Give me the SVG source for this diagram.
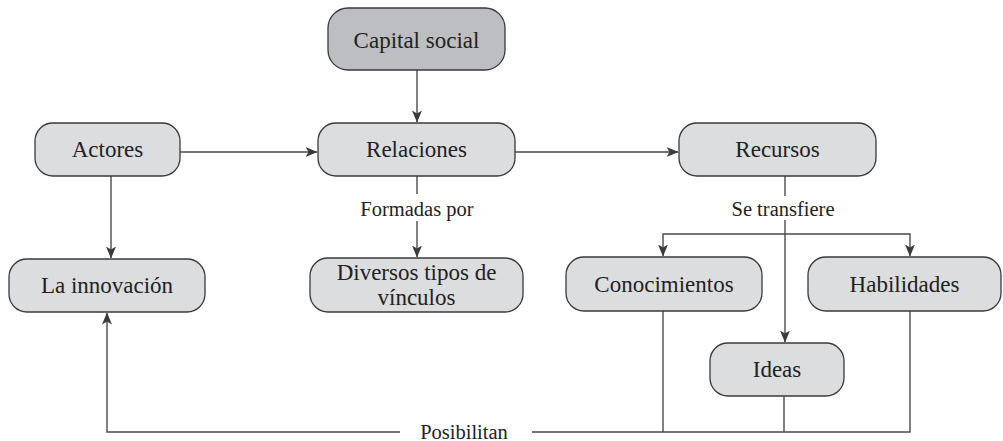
<svg xmlns="http://www.w3.org/2000/svg" width="1003" height="441" viewBox="0 0 1003 441">
<style>
.n{fill:#dcdddf;stroke:#3a3a3a;stroke-width:1.3}
.d{fill:#bdbec1;stroke:#3a3a3a;stroke-width:1.3}
.t{font-family:"Liberation Serif",serif;font-size:23px;fill:#222;text-anchor:middle}
.l{font-family:"Liberation Serif",serif;font-size:20.5px;fill:#222;text-anchor:middle}
.c{fill:none;stroke:#4a4a4a;stroke-width:1.4}
</style>
<defs>
<marker id="a" viewBox="0 0 12 10" refX="11.5" refY="5" markerWidth="12" markerHeight="10" markerUnits="userSpaceOnUse" orient="auto">
<path d="M0,0 L12,5 L0,10 L3,5 z" fill="#3a3a3a"/>
</marker>
</defs>
<rect width="1003" height="441" fill="#fff"/>
<g id="connectors">
<path class="c" d="M417,70 V122" marker-end="url(#a)"/>
<path class="c" d="M180,152 H317" marker-end="url(#a)"/>
<path class="c" d="M111,176 V258" marker-end="url(#a)"/>
<path class="c" d="M515,152 H678" marker-end="url(#a)"/>
<path class="c" d="M417,176 V194"/>
<path class="c" d="M417,221 V257" marker-end="url(#a)"/>
<path class="c" d="M785,176 V196"/>
<path class="c" d="M785,220 V342" marker-end="url(#a)"/>
<path class="c" d="M785,234 H910 V256" marker-end="url(#a)"/>
<path class="c" d="M785,234 H663 V256" marker-end="url(#a)"/>
<path class="c" d="M663,311 V432 M784,396 V432 M910,311 V432 H532"/>
<path class="c" d="M400,432 H107 V313" marker-end="url(#a)"/>
<text class="l" x="417" y="216">Formadas por</text>
<text class="l" x="783" y="216">Se transfiere</text>
<text class="l" x="464" y="439">Posibilitan</text>
</g>
<g id="capital"><rect class="d" x="328" y="8" width="177" height="62" rx="20"/><text class="t" x="416.5" y="48">Capital social</text></g>
<g id="actores"><rect class="n" x="35" y="123" width="145" height="53" rx="18"/><text class="t" x="107.5" y="157">Actores</text></g>
<g id="relaciones"><rect class="n" x="318" y="123" width="197" height="53" rx="18"/><text class="t" x="416.5" y="157">Relaciones</text></g>
<g id="recursos"><rect class="n" x="679" y="123" width="197" height="53" rx="18"/><text class="t" x="777.5" y="157">Recursos</text></g>
<g id="innovacion"><rect class="n" x="9" y="259" width="196" height="53" rx="18"/><text class="t" x="107" y="293">La innovación</text></g>
<g id="diversos"><rect class="n" x="310" y="258" width="213" height="54" rx="18"/><text class="t" x="416.5" y="280">Diversos tipos de</text><text class="t" x="416.5" y="305">vínculos</text></g>
<g id="conocimientos"><rect class="n" x="566" y="257" width="196" height="54" rx="18"/><text class="t" x="664" y="292">Conocimientos</text></g>
<g id="habilidades"><rect class="n" x="808" y="257" width="193" height="54" rx="18"/><text class="t" x="904.5" y="292">Habilidades</text></g>
<g id="ideas"><rect class="n" x="710" y="343" width="134" height="53" rx="18"/><text class="t" x="777" y="377">Ideas</text></g>
</svg>
